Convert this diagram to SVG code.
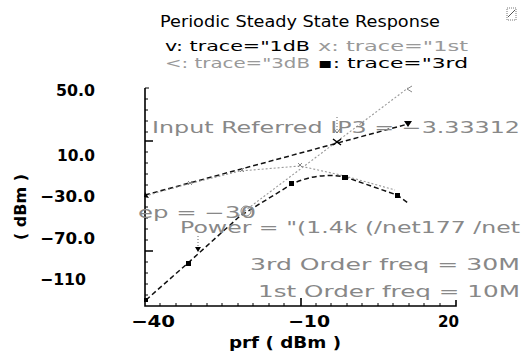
<svg xmlns="http://www.w3.org/2000/svg" width="527" height="355" viewBox="0 0 527 355">
  <style>
    text { font-family: "DejaVu Sans", "Liberation Sans", sans-serif; }
    .title { font-size: 16px; fill: #000; }
    .lbl { font-size: 16px; fill: #000; font-weight: bold; }
    .leg { font-size: 14px; fill: #000; }
    .legg { font-size: 14px; fill: #999; }
    .note { font-size: 15.5px; fill: #888; }
    .axis { stroke: #000; stroke-width: 1.6; fill: none; }
    .tick { stroke: #000; stroke-width: 1; fill: none; }
    .dark { stroke: #111; stroke-width: 1.5; fill: none; stroke-dasharray: 5 3; }
    .grey { stroke: #999; stroke-width: 1.1; fill: none; stroke-dasharray: 2 2; }
    .mk { fill: #000; }
    .mkg { stroke: #888; stroke-width: 1; fill: none; }
  </style>

  <!-- title and window icon -->
  <g id="title">
    <text class="title" x="160" y="27" textLength="280" lengthAdjust="spacingAndGlyphs">Periodic Steady State Response</text>
    <rect x="507" y="8" width="9" height="12" fill="none" stroke="#777" stroke-width="1" stroke-dasharray="1 1"/>
    <path d="M508 17 L515 10" stroke="#555" stroke-width="1"/>
  </g>

  <!-- legend -->
  <g id="legend">
    <text class="leg" x="165" y="51" textLength="145" lengthAdjust="spacingAndGlyphs">v: trace="1dB</text>
    <text class="legg" x="318" y="51" textLength="150" lengthAdjust="spacingAndGlyphs">x: trace="1st</text>
    <text class="legg" x="165" y="68" textLength="145" lengthAdjust="spacingAndGlyphs">&lt;: trace="3dB</text>
    <text class="leg" x="318" y="68" textLength="150" lengthAdjust="spacingAndGlyphs">▪: trace="3rd</text>
  </g>

  <!-- axes -->
  <g id="axes">
    <path class="axis" d="M145 88 V306 H456 V300"/>
    <path class="tick" d="M145 88 H149"/>
    <!-- y minor ticks -->
    <path class="tick" d="M145 99 h3 M145 110 h3 M145 121 h3 M145 132 h3 M145 152 h3 M145 163 h3 M145 174 h3 M145 185 h3 M145 207 h3 M145 218 h3 M145 229 h3 M145 240 h3 M145 262 h3 M145 273 h3 M145 284 h3 M145 295 h3"/>
    <path class="axis" d="M145 141 h8 M145 251 h8"/>
    <!-- x minor ticks -->
    <path class="tick" d="M160 306 v-3 M176 306 v-3 M191 306 v-3 M207 306 v-3 M222 306 v-3 M238 306 v-3 M253 306 v-3 M269 306 v-3 M284 306 v-3 M316 306 v-3 M331 306 v-3 M347 306 v-3 M362 306 v-3 M378 306 v-3 M393 306 v-3 M409 306 v-3 M424 306 v-3 M440 306 v-3"/>
    <path class="axis" d="M301 306 v-8"/>
  </g>

  <g id="y-labels">
    <text class="lbl" x="56" y="96" textLength="39" lengthAdjust="spacingAndGlyphs">50.0</text>
    <text class="lbl" x="57" y="161" textLength="38" lengthAdjust="spacingAndGlyphs">10.0</text>
    <text class="lbl" x="40" y="202" textLength="55" lengthAdjust="spacingAndGlyphs">−30.0</text>
    <text class="lbl" x="40" y="244" textLength="55" lengthAdjust="spacingAndGlyphs">−70.0</text>
    <text class="lbl" x="40" y="285" textLength="46" lengthAdjust="spacingAndGlyphs">−110</text>
    <text class="lbl" x="26" y="207" text-anchor="middle" transform="rotate(-90 26 207)" textLength="66" lengthAdjust="spacingAndGlyphs">( dBm )</text>
  </g>

  <g id="x-labels">
    <text class="lbl" x="131" y="327" textLength="44" lengthAdjust="spacingAndGlyphs">−40</text>
    <text class="lbl" x="288" y="327" textLength="42" lengthAdjust="spacingAndGlyphs">−10</text>
    <text class="lbl" x="438" y="327" textLength="21" lengthAdjust="spacingAndGlyphs">20</text>
    <text class="lbl" x="229" y="348" textLength="112" lengthAdjust="spacingAndGlyphs">prf ( dBm )</text>
  </g>

  <!-- traces -->
  <g id="connectors">
    <!-- 1dB slope extrapolation -->
    <path class="dark" d="M145 195 L408 124"/>
    <!-- 1st order output -->
    <path class="grey" d="M145 196 L188 184 L240 171 L300 166 L345 176 L395 190"/>
    <!-- 3dB slope extrapolation -->
    <path class="grey" d="M238 216 L408 88"/>
    <!-- 3rd order output -->
    <path class="dark" d="M146 300 L188 263 L240 216 L292 184 Q318 172 345 177 L397 195 L408 203"/>
  </g>

  <!-- markers -->
  <g id="markers">
    <path d="M145 192 l4 6 l-5 -1 z" class="mk"/>
    <path d="M404 121 l8 0 l-4 6 z" class="mk"/>
    <path d="M188 181 l4 4 m0 -4 l-4 4" class="mkg"/>
    <path d="M240 168 l4 4 m0 -4 l-4 4" class="mkg"/>
    <path d="M298 163 l4 4 m0 -4 l-4 4" class="mkg"/>
    <path d="M412 86 l-5 3 l5 3" class="mkg"/>
    <rect x="144" y="298" width="4" height="4" class="mk"/>
    <rect x="186" y="261" width="5" height="5" class="mk"/>
    <rect x="289" y="181" width="5" height="5" class="mk"/>
    <rect x="342" y="175" width="6" height="5" class="mk"/>
    <rect x="395" y="193" width="5" height="5" class="mk"/>
    <!-- IP3 crossing -->
    <path d="M333 139 l8 6 m0 -6 l-8 6" stroke="#000" stroke-width="1.5"/>
    <path d="M337 117 v14" stroke="#666" stroke-width="1" stroke-dasharray="1 2"/>
    <path d="M334 129 l3 4 l3 -4" stroke="#666" stroke-width="1" fill="none"/>
    <!-- input power marker -->
    <path d="M198 236 v11" stroke="#666" stroke-width="1" stroke-dasharray="1 2"/>
    <path d="M195 247 l6 0 l-3 5 z" class="mk"/>
    <circle cx="246" cy="211" r="5" class="mkg"/>
  </g>

  <g id="annotations">
    <text class="note" x="152" y="133" textLength="368" lengthAdjust="spacingAndGlyphs">Input Referred IP3 = −3.33312</text>
    <text class="note" x="138" y="218" textLength="118" lengthAdjust="spacingAndGlyphs">ep = −30</text>
    <text class="note" x="180" y="233" textLength="340" lengthAdjust="spacingAndGlyphs">Power = "(1.4k (/net177 /net</text>
    <text class="note" x="250" y="270" textLength="270" lengthAdjust="spacingAndGlyphs">3rd Order freq = 30M</text>
    <text class="note" x="258" y="297" textLength="262" lengthAdjust="spacingAndGlyphs">1st Order freq = 10M</text>
  </g>
</svg>
